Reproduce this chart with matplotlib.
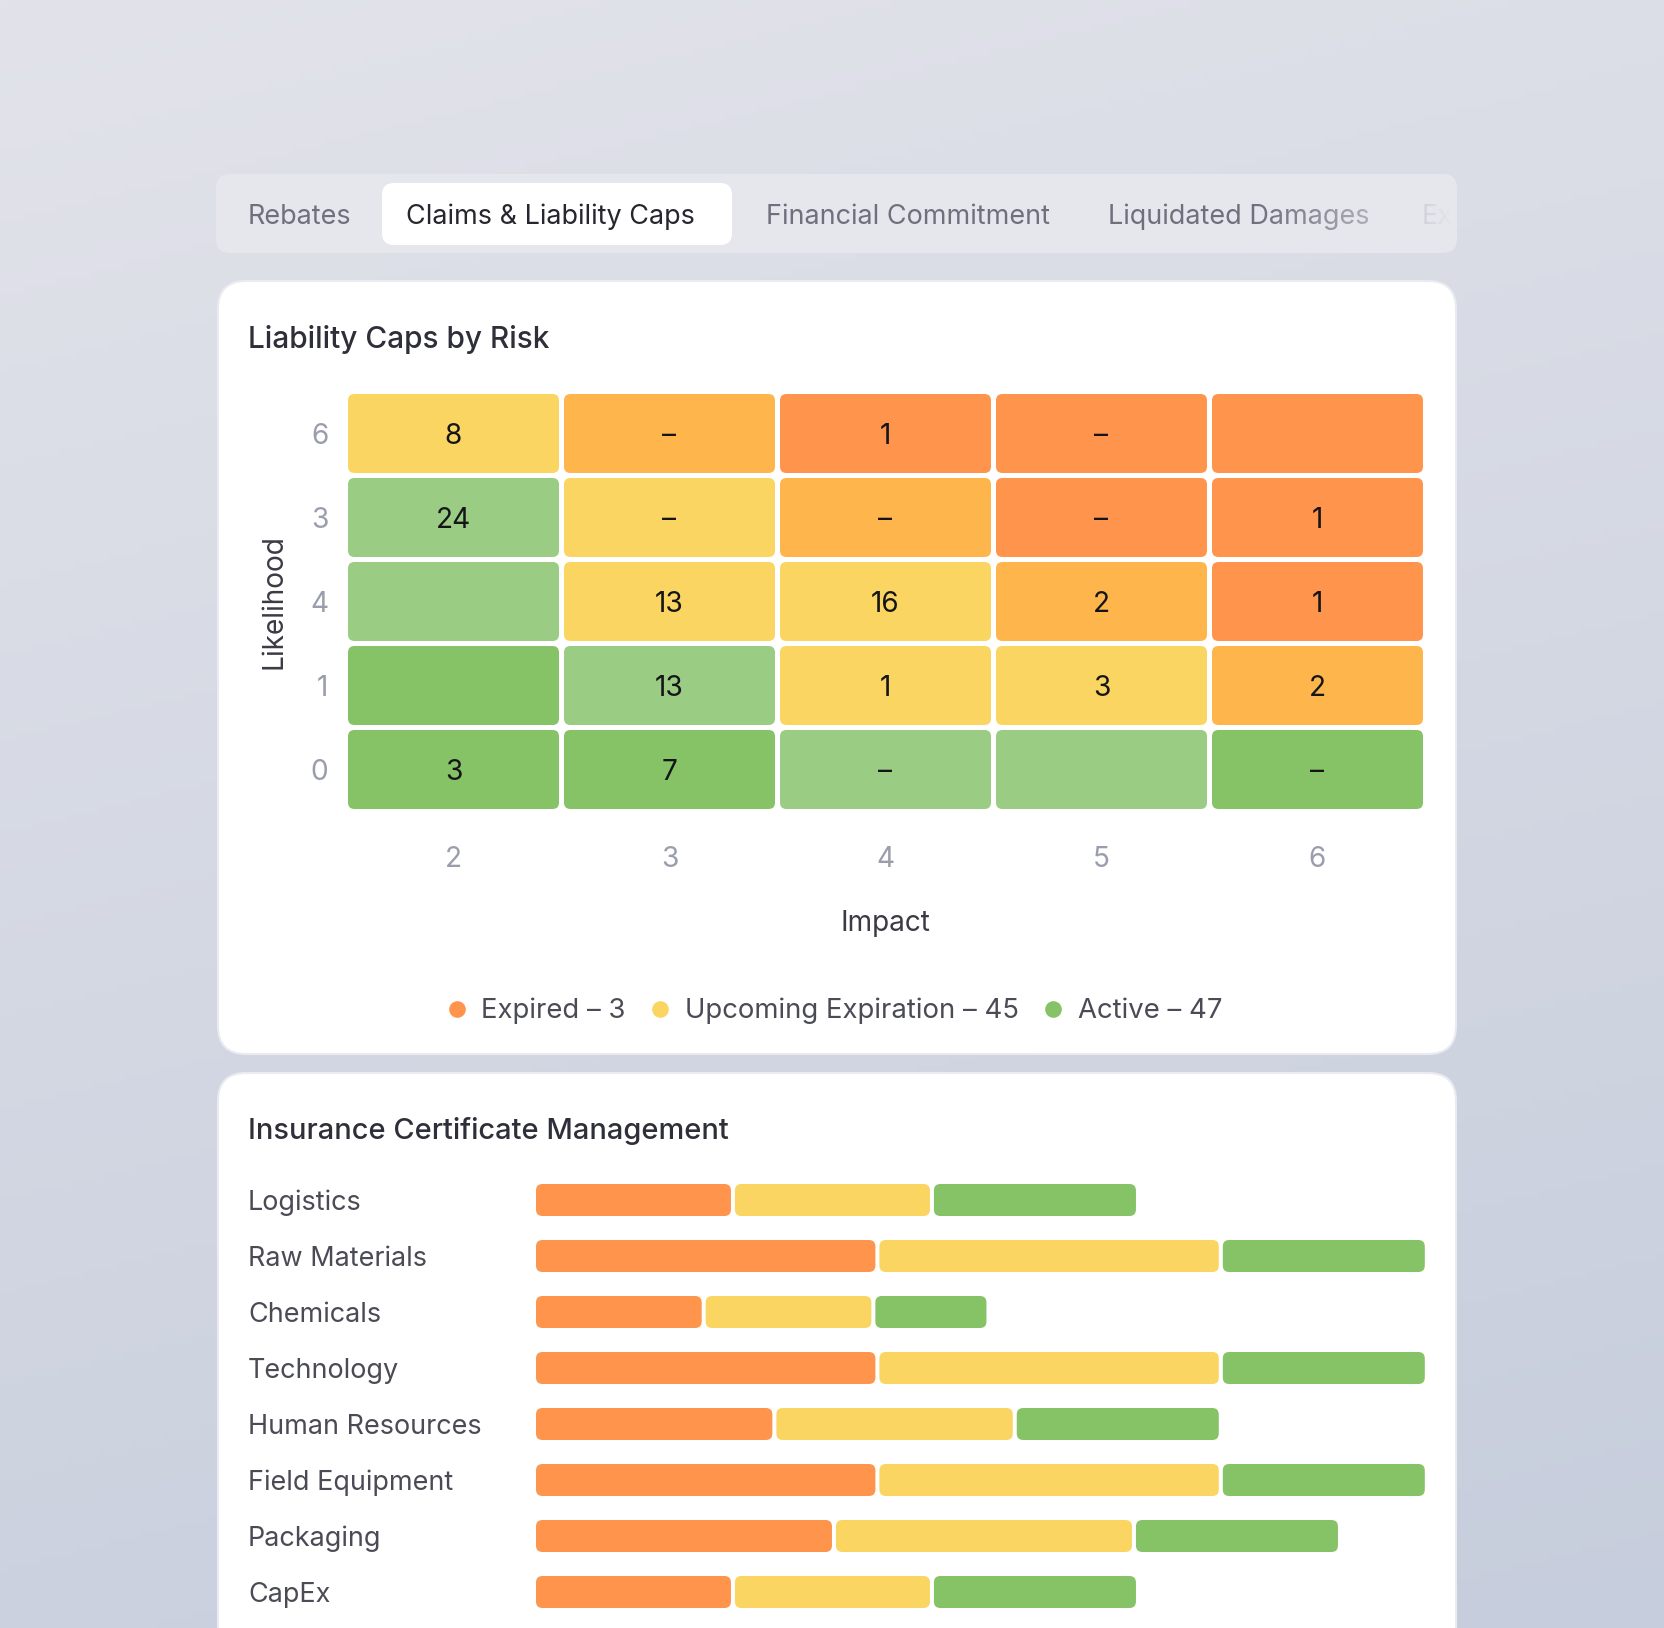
import numpy as np
import matplotlib.pyplot as plt
from matplotlib.patches import FancyBboxPatch
from matplotlib.lines import Line2D
from matplotlib.colors import to_rgb

plt.rcParams['font.family'] = ['Inter', 'DejaVu Sans']

W, H = 1664, 1628
PT = 0.72  # px -> pt at dpi 100

# ---------------- data ----------------
tabs = ['Rebates', 'Claims & Liability Caps', 'Financial Commitment', 'Liquidated Damages', 'Ex']
active_tab = 1

impact = ['2', '3', '4', '5', '6']
likelihood = ['6', '3', '4', '1', '0']          # top to bottom, as shown
# risk band of each cell (0 = green ... 4 = orange)
risk_band = [
    [2, 3, 4, 4, 4],
    [1, 2, 3, 4, 4],
    [1, 2, 2, 3, 4],
    [0, 1, 2, 2, 3],
    [0, 0, 1, 1, 0],
]
cell_counts = [
    ['8', '–', '1', '–', ''],
    ['24', '–', '–', '–', '1'],
    ['', '13', '16', '2', '1'],
    ['', '13', '1', '3', '2'],
    ['3', '7', '–', '', '–'],
]
band_colors = ['#86C266', '#9ACC83', '#FBD562', '#FEB64C', '#FF944D']

status = ['Expired', 'Upcoming Expiration', 'Active']
status_totals = [3, 45, 47]
status_colors = ['#FF944D', '#FBD562', '#86C266']

categories = ['Logistics', 'Raw Materials', 'Chemicals', 'Technology',
              'Human Resources', 'Field Equipment', 'Packaging', 'CapEx']
expired = [9.85, 17, 8.4, 17, 11.9, 17, 14.85, 9.85]
upcoming = [9.85, 17, 8.4, 17, 11.9, 17, 14.85, 9.85]
active = [10, 10, 5.5, 10, 10, 10, 10, 10]

# ---------------- figure / backdrop ----------------
fig = plt.figure(figsize=(W / 100, H / 100), dpi=100)
bg = fig.add_axes([0, 0, 1, 1])
bg.set_xlim(0, W)
bg.set_ylim(H, 0)
bg.axis('off')

yy, xx = np.mgrid[0:1:200j, 0:1:200j]
top = np.array(to_rgb('#E2E3EA'))
bot = np.array(to_rgb('#C6CDDC'))
t = np.clip(0.8 * yy + 0.2 * xx, 0, 1)[..., None]
grad = top * (1 - t) + bot * t
bg.imshow(grad, extent=[0, W, H, 0], aspect='auto', zorder=0)


def box(ax, x, y, w, h, r, color, z=1, ec='none', lw=0, ma=1.0):
    p = FancyBboxPatch((x, y), w, h, boxstyle=f'round,pad=0,rounding_size={r}',
                       fc=color, ec=ec, lw=lw, zorder=z, mutation_aspect=ma)
    ax.add_patch(p)
    return p


# tab strip
box(bg, 216, 174, 1241, 79, 14, '#E5E7ED', z=1)
box(bg, 382, 183, 350, 62, 12, 'white', z=2)
tab_x = [248, 406, 766, 1108, 1422]
for i, (tx, label) in enumerate(zip(tab_x, tabs)):
    bg.text(tx, 217, label, fontsize=27 * PT, va='center', ha='left',
            color='#26262E' if i == active_tab else '#6E717D', zorder=3)
# right-hand fade of the tab strip
fade = np.zeros((2, 100, 4))
fade[..., :3] = to_rgb('#E5E7ED')
fade[..., 3] = np.linspace(0, 1, 100) ** 1.2
bg.imshow(fade, extent=[1250, 1452, 250, 180], aspect='auto', zorder=4)

# cards
box(bg, 218, 281, 1238, 773, 28, 'white', z=1, ec='#E9EBF1', lw=1.5)
box(bg, 218, 1073, 1238, 620, 28, 'white', z=1, ec='#E9EBF1', lw=1.5)

bg.text(248, 340, 'Liability Caps by Risk', fontsize=29.8 * PT, fontweight='medium',
        color='#2E2F38', va='center', ha='left', zorder=3)
bg.text(248, 1131, 'Insurance Certificate Management', fontsize=29 * PT,
        fontweight='medium', color='#2E2F38', va='center', ha='left', zorder=3)


def frac(x0, y0, x1, y1):
    return [x0 / W, 1 - y1 / H, (x1 - x0) / W, (y1 - y0) / H]


# ---------------- heatmap ----------------
hm = fig.add_axes(frac(345.5, 391.5, 1425.5, 811.5))
hm.set_xlim(-0.5, len(impact) - 0.5)
hm.set_ylim(len(likelihood) - 0.5, -0.5)
cw, ch = 211 / 216, 79 / 84
for r in range(len(likelihood)):
    for c in range(len(impact)):
        box(hm, c - cw / 2, r - ch / 2, cw, ch, 0.03,
            band_colors[risk_band[r][c]], ma=216 / 84)
        if cell_counts[r][c]:
            hm.text(c, r + 0.035, cell_counts[r][c], ha='center', va='center',
                    fontsize=28 * PT, color='#151518')
hm.set_xticks(range(len(impact)))
hm.set_xticklabels(impact)
hm.set_yticks(range(len(likelihood)))
hm.set_yticklabels(likelihood)
hm.tick_params(length=0, labelsize=28 * PT, labelcolor='#9A9DAC')
hm.tick_params(axis='x', pad=24.7)
hm.tick_params(axis='y', pad=12.5)
for s in hm.spines.values():
    s.set_visible(False)
hm.patch.set_visible(False)
hm.set_xlabel('Impact', fontsize=28 * PT, color='#3A3B44', labelpad=26.5)
hm.set_ylabel('Likelihood', fontsize=28 * PT, color='#3A3B44', labelpad=16)

handles = [Line2D([], [], marker='o', ls='none', ms=12, mfc=col, mec='none')
           for col in status_colors]
labels = [f'{s} – {n}' for s, n in zip(status, status_totals)]
fig.legend(handles, labels, loc='center', bbox_to_anchor=(834 / W, 1 - 1011 / H),
           ncol=3, frameon=False, fontsize=27.5 * PT, labelcolor='#4A4B55',
           handletextpad=0.5, columnspacing=0.85, handlelength=0.8)

# ---------------- stacked bars ----------------
bx = fig.add_axes(frac(536, 1172, 536 + 44 * 20.2, 1620))
bx.set_xlim(0, 44)
bx.set_ylim(len(categories) - 0.5, -0.5)
gap = 4 / 20.2
bh = 32 / 56
series = [expired, upcoming, active]
for i in range(len(categories)):
    left = 0
    for k, (vals, col) in enumerate(zip(series, status_colors)):
        v = vals[i]
        w = v if k == len(series) - 1 else v - gap
        box(bx, left, i - bh / 2, w, bh, 0.32, col, ma=20.2 / 56)
        left += v
bx.set_yticks(range(len(categories)))
bx.set_yticklabels(categories)
for lab in bx.get_yticklabels():
    lab.set_ha('left')
bx.tick_params(axis='y', length=0, pad=(536 - 248) * PT, labelsize=27 * PT,
               labelcolor='#4A4B55')
bx.set_xticks([])
for s in bx.spines.values():
    s.set_visible(False)
bx.patch.set_visible(False)

fig.savefig('out.png', dpi=100)
